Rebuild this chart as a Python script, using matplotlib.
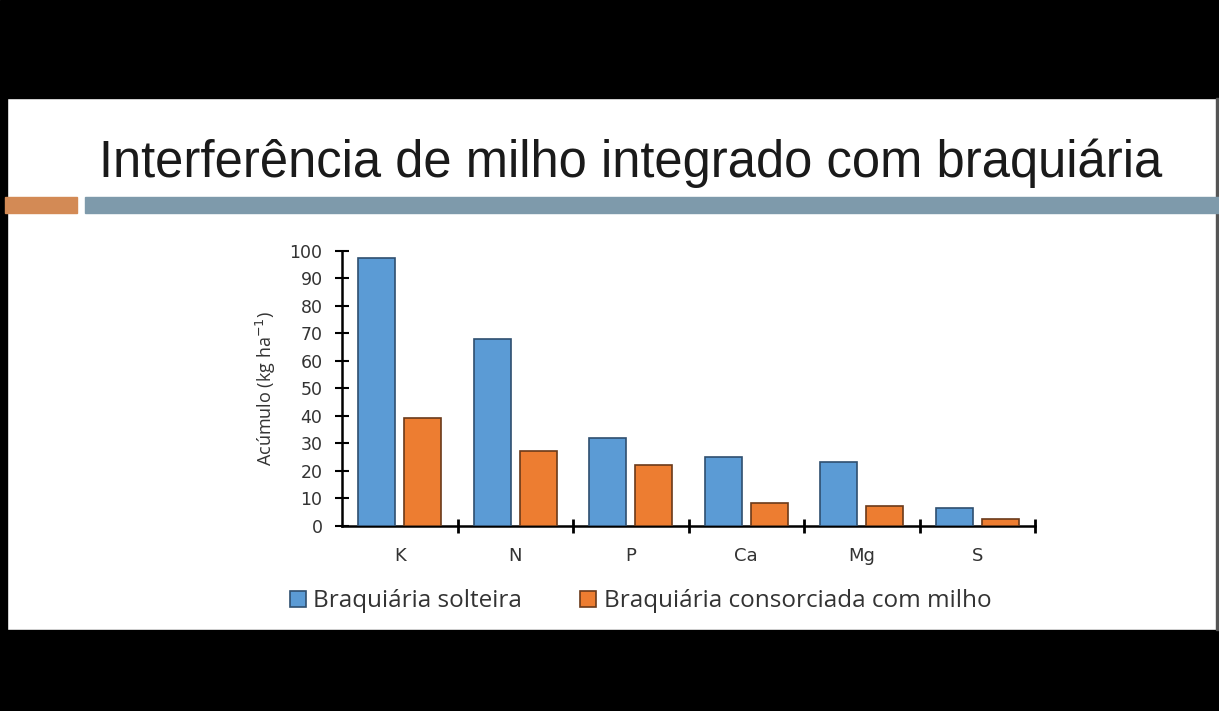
import matplotlib.pyplot as plt
import matplotlib.patches as mpatches
import numpy as np

# dados
nutrientes = ["K", "N", "P", "Ca", "Mg", "S"]
solteira = [97.5, 68, 32, 25, 23, 6.3]
consorciada = [39, 27, 22, 8.4, 7.3, 2.4]

cor_azul = "#5B9BD5"
cor_laranja = "#ED7D31"

fig = plt.figure(figsize=(12.19, 7.11), dpi=100)
fig.patch.set_facecolor("white")

W, H = 1219, 711

def rect(x0, y0, x1, y1, cor):
    # coordenadas em pixels (origem em cima)
    fig.patches.append(mpatches.Rectangle((x0 / W, 1 - y1 / H), (x1 - x0) / W, (y1 - y0) / H,
                                          transform=fig.transFigure, color=cor, zorder=0))

# faixas pretas e barras decorativas do slide
rect(0, 0, W, 98, "black")
rect(0, 630, W, H, "black")
rect(0, 98, 7, 630, "black")
rect(1216, 98, W, 630, "#555555")
rect(5, 197, 77, 213, "#D38A55")
rect(85, 197, W, 213, "#7E9AAB")

fig.text(0.5176, 1 - 163 / H, "Interferência de milho integrado com braquiária",
         ha="center", va="center", fontsize=36.5, color="#1a1a1a", family="Liberation Sans")

ax = fig.add_axes([342 / W, 1 - 525.7 / H, (1035 - 342) / W, 275 / H])
x = np.arange(len(nutrientes))
larg = 0.32
ax.bar(x - 0.2, solteira, larg, color=cor_azul, edgecolor="#2F4F6F", linewidth=1.2,
       label="Braquiária solteira", zorder=3)
ax.bar(x + 0.2, consorciada, larg, color=cor_laranja, edgecolor="#6B3A1A", linewidth=1.2,
       label="Braquiária consorciada com milho", zorder=3)

ax.set_xlim(-0.5, 5.5)
ax.set_ylim(0, 100)
ax.set_yticks(np.arange(0, 101, 10))
ax.set_xticks(x + 0.5)
ax.set_xticklabels([])
ax.set_xticks(x, minor=True)
ax.set_xticklabels(nutrientes, minor=True, fontsize=13, family="DejaVu Sans", color="#333333")
ax.tick_params(axis="x", which="minor", length=0, pad=15)
ax.tick_params(axis="x", which="major", direction="inout", length=10, width=2)
ax.tick_params(axis="y", direction="inout", length=10, width=1.5, labelsize=12.5, pad=9,
               labelcolor="#333333")
for lab in ax.get_yticklabels():
    lab.set_family("DejaVu Sans")
for s in ["top", "right"]:
    ax.spines[s].set_visible(False)
ax.spines["left"].set_linewidth(1.8)
ax.spines["bottom"].set_linewidth(1.8)
ax.set_ylabel("Acúmulo (kg ha$^{-1}$)", fontsize=13, family="Open Sans", color="#333333",
              labelpad=8)

leg = ax.legend(loc="upper center", bbox_to_anchor=(0.431, -0.152), ncol=2, frameon=False,
                handlelength=0.65, handleheight=0.65, handletextpad=0.3,
                columnspacing=2.4, prop={"family": "Open Sans", "size": 17.5})
for t in leg.get_texts():
    t.set_color("#333333")

fig.savefig("out.png", dpi=100)
